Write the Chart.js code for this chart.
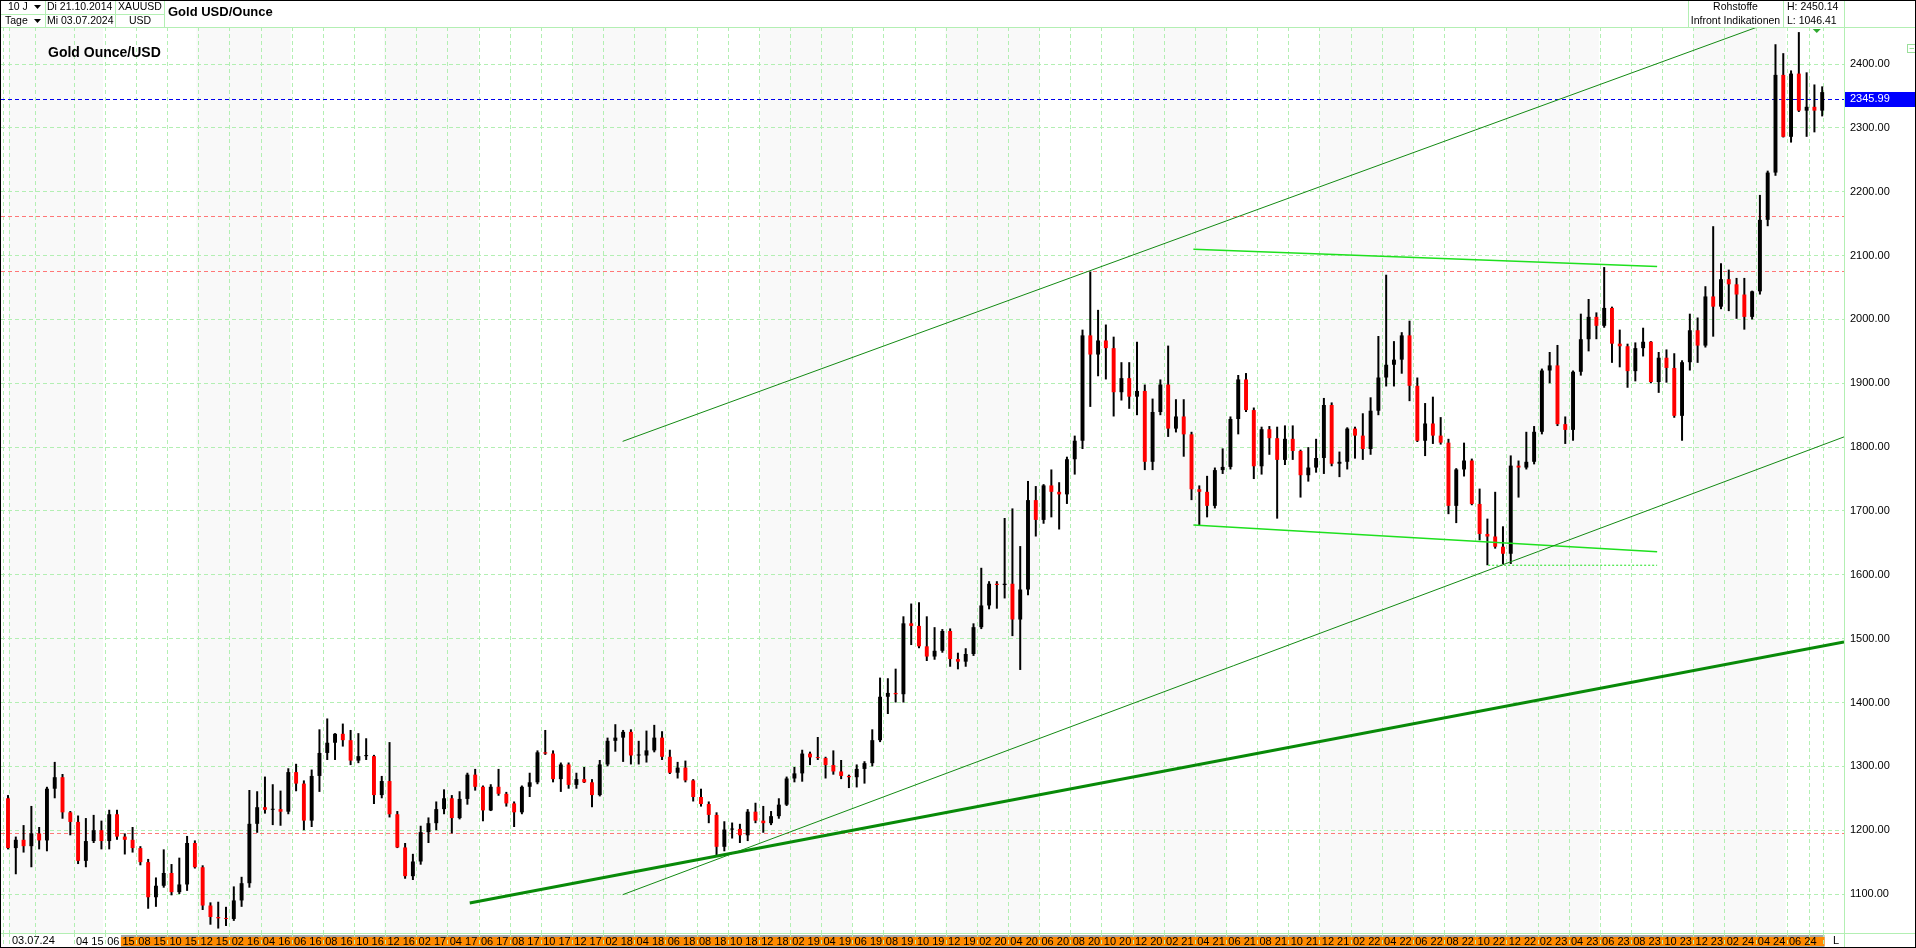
<!DOCTYPE html>
<html>
<head>
<meta charset="utf-8">
<title>Gold USD/Ounce</title>
<script src="https://cdn.jsdelivr.net/npm/chart.js@4.4.1/dist/chart.umd.min.js"></script>
<style>
  html, body { margin: 0; padding: 0; background: #fff; overflow: hidden; }
  canvas { display: block; }
</style>
</head>
<body>
<canvas id="goldChart" width="1916" height="948"></canvas>
<script>
// Half-month candles, first one = 21.10.2014 - 31.10.2014, last one = 01.07.2024 - 03.07.2024
// x unit = months since 01.01.2014
const FIRST_PERIOD = 9.75;
const PERIOD_STEP = 0.5;

const opens = [
  1250, 1172, 1185, 1175, 1195,
  1184, 1265, 1283, 1228, 1213, 1152, 1183, 1200, 1183, 1225, 1190, 1185, 1172, 1150, 1095, 1113, 1133, 1103, 1115, 1180, 1142, 1082, 1064, 1062,
  1061, 1090, 1117, 1210, 1236, 1232, 1233, 1229, 1291, 1273, 1215, 1285, 1321, 1337, 1351, 1341, 1309, 1316, 1316, 1255, 1277, 1225, 1173, 1128,
  1151, 1197, 1211, 1233, 1250, 1219, 1249, 1287, 1268, 1231, 1268, 1257, 1242, 1228, 1268, 1275, 1322, 1320, 1280, 1303, 1271, 1280, 1275, 1255,
  1303, 1340, 1345, 1354, 1317, 1317, 1325, 1345, 1315, 1290, 1298, 1278, 1252, 1241, 1224, 1174, 1201, 1202, 1192, 1229, 1215, 1211, 1222, 1240,
  1281, 1289, 1320, 1314, 1313, 1302, 1292, 1285, 1283, 1296, 1305, 1341, 1409, 1415, 1413, 1524, 1520, 1488, 1472, 1481, 1512, 1468, 1464, 1476,
  1518, 1552, 1586, 1584, 1586, 1530, 1577, 1717, 1686, 1740, 1730, 1726, 1781, 1810, 1975, 1945, 1967, 1955, 1886, 1908, 1879, 1888, 1777, 1855,
  1898, 1829, 1848, 1820, 1734, 1730, 1708, 1764, 1769, 1844, 1906, 1858, 1770, 1828, 1814, 1780, 1813, 1794, 1756, 1768, 1783, 1866, 1774, 1777,
  1829, 1818, 1797, 1857, 1909, 1929, 1937, 1975, 1896, 1810, 1837, 1818, 1807, 1708, 1765, 1779, 1711, 1664, 1660, 1644, 1633, 1771, 1768, 1777,
  1824, 1920, 1928, 1836, 1827, 1918, 1969, 2004, 1990, 2018, 1962, 1958, 1919, 1955, 1965, 1902, 1940, 1924, 1849, 1933, 1983, 1959, 2036, 2020,
  2063, 2055, 2039, 2004, 2044, 2156, 2230, 2383, 2286, 2385, 2327, 2333, 2327
];
const highs = [
  1255, 1190, 1208, 1238, 1205,
  1268, 1307, 1288, 1230, 1223, 1219, 1224, 1215, 1232, 1232, 1195, 1205, 1175, 1155, 1126, 1170, 1147, 1157, 1191, 1184, 1145, 1087, 1088, 1080,
  1112, 1127, 1263, 1261, 1284, 1272, 1262, 1297, 1304, 1278, 1295, 1358, 1375, 1352, 1367, 1357, 1352, 1344, 1318, 1285, 1338, 1230, 1180, 1163,
  1207, 1220, 1245, 1264, 1255, 1261, 1290, 1296, 1270, 1272, 1296, 1260, 1245, 1270, 1290, 1325, 1357, 1325, 1306, 1306, 1290, 1299, 1280, 1310,
  1345, 1366, 1357, 1358, 1340, 1356, 1365, 1355, 1326, 1307, 1309, 1280, 1265, 1245, 1228, 1214, 1212, 1210, 1233, 1243, 1238, 1230, 1250, 1284,
  1299, 1326, 1323, 1346, 1315, 1325, 1310, 1287, 1303, 1308, 1358, 1439, 1438, 1453, 1535, 1555, 1557, 1535, 1518, 1515, 1516, 1478, 1485, 1524,
  1611, 1590, 1590, 1689, 1704, 1645, 1747, 1739, 1742, 1765, 1745, 1785, 1818, 1984, 2075, 2015, 1992, 1973, 1933, 1933, 1965, 1898, 1876, 1906,
  1959, 1875, 1875, 1824, 1740, 1755, 1768, 1798, 1848, 1913, 1916, 1862, 1832, 1833, 1832, 1834, 1834, 1796, 1800, 1813, 1877, 1870, 1793, 1831,
  1832, 1853, 1878, 1974, 2070, 1966, 1980, 1998, 1909, 1869, 1879, 1847, 1813, 1767, 1807, 1782, 1735, 1688, 1730, 1676, 1787, 1779, 1824, 1833,
  1923, 1949, 1960, 1848, 1920, 2009, 2032, 2011, 2082, 2020, 1984, 1962, 1964, 1987, 1966, 1949, 1953, 1947, 1936, 2009, 2003, 2052, 2146, 2088,
  2078, 2065, 2065, 2045, 2195, 2233, 2431, 2417, 2390, 2450, 2387, 2368, 2365
];
const lows = [
  1170, 1131, 1165, 1142, 1170,
  1167, 1250, 1218, 1192, 1147, 1142, 1180, 1170, 1170, 1185, 1162, 1165, 1145, 1077, 1080, 1110, 1098, 1100, 1105, 1140, 1075, 1052, 1046, 1050,
  1058, 1080, 1110, 1196, 1226, 1208, 1207, 1225, 1261, 1200, 1205, 1260, 1310, 1310, 1331, 1302, 1305, 1310, 1241, 1250, 1220, 1172, 1124, 1122,
  1146, 1180, 1200, 1225, 1195, 1217, 1240, 1262, 1214, 1230, 1254, 1237, 1205, 1225, 1252, 1272, 1318, 1275, 1260, 1265, 1265, 1274, 1236, 1253,
  1300, 1323, 1307, 1303, 1303, 1306, 1322, 1310, 1288, 1281, 1275, 1245, 1237, 1211, 1160, 1167, 1187, 1180, 1183, 1211, 1196, 1208, 1218, 1238,
  1275, 1276, 1302, 1310, 1281, 1287, 1280, 1266, 1267, 1273, 1300, 1338, 1382, 1400, 1400, 1490, 1485, 1465, 1467, 1478, 1456, 1452, 1456, 1473,
  1515, 1546, 1547, 1563, 1504, 1451, 1568, 1660, 1680, 1690, 1671, 1711, 1757, 1797, 1863, 1911, 1906, 1848, 1873, 1860, 1850, 1764, 1764, 1850,
  1816, 1823, 1785, 1717, 1677, 1690, 1704, 1758, 1765, 1820, 1855, 1750, 1757, 1788, 1688, 1772, 1780, 1721, 1746, 1760, 1758, 1770, 1753, 1765,
  1782, 1780, 1788, 1850, 1895, 1895, 1915, 1872, 1808, 1786, 1805, 1804, 1695, 1681, 1754, 1709, 1654, 1615, 1641, 1617, 1617, 1721, 1765, 1773,
  1820, 1900, 1833, 1805, 1810, 1912, 1950, 1969, 1987, 1932, 1925, 1893, 1903, 1942, 1900, 1885, 1901, 1846, 1810, 1920, 1932, 1956, 1973, 2016,
  2013, 2001, 1984, 2000, 2039, 2146, 2225, 2285, 2277, 2325, 2286, 2293, 2318
];
const closes = [
  1172, 1185, 1175, 1195, 1184,
  1265, 1283, 1228, 1213, 1152, 1183, 1200, 1183, 1225, 1190, 1185, 1172, 1150, 1095, 1113, 1133, 1103, 1115, 1180, 1142, 1082, 1064, 1062, 1061,
  1090, 1117, 1210, 1236, 1232, 1233, 1229, 1291, 1273, 1215, 1285, 1321, 1337, 1351, 1341, 1309, 1316, 1316, 1255, 1277, 1225, 1173, 1128, 1151,
  1197, 1211, 1233, 1250, 1219, 1249, 1287, 1268, 1231, 1268, 1257, 1242, 1228, 1268, 1275, 1322, 1320, 1280, 1303, 1271, 1280, 1275, 1255, 1303,
  1340, 1345, 1354, 1317, 1317, 1325, 1345, 1315, 1290, 1298, 1278, 1252, 1241, 1224, 1174, 1201, 1202, 1192, 1229, 1215, 1211, 1222, 1240, 1281,
  1289, 1320, 1314, 1313, 1302, 1292, 1285, 1283, 1296, 1305, 1341, 1409, 1415, 1413, 1524, 1520, 1488, 1472, 1481, 1512, 1468, 1464, 1476, 1518,
  1552, 1586, 1584, 1586, 1530, 1577, 1717, 1686, 1740, 1730, 1726, 1781, 1810, 1975, 1945, 1967, 1955, 1886, 1908, 1879, 1888, 1777, 1855, 1898,
  1829, 1848, 1820, 1734, 1730, 1708, 1764, 1769, 1844, 1906, 1858, 1770, 1828, 1814, 1780, 1813, 1794, 1756, 1768, 1783, 1866, 1774, 1777, 1829,
  1818, 1797, 1857, 1909, 1929, 1937, 1975, 1896, 1810, 1837, 1818, 1807, 1708, 1765, 1779, 1711, 1664, 1660, 1644, 1633, 1771, 1768, 1777, 1824,
  1920, 1928, 1836, 1827, 1918, 1969, 2004, 1990, 2018, 1962, 1958, 1919, 1955, 1965, 1902, 1940, 1924, 1849, 1933, 1983, 1959, 2036, 2020, 2063,
  2055, 2039, 2004, 2044, 2156, 2230, 2383, 2286, 2385, 2327, 2333, 2327, 2356
];

// trend lines drawn on the chart (x = month, y = price)
const channelTop = [{ x: 49.22, y: 1809 }, { x: 124.0, y: 2475 }];
const channelBottom = [{ x: 49.22, y: 1099 }, { x: 127.65, y: 1816 }];
const supportLine = [{ x: 39.4, y: 1086 }, { x: 127.65, y: 1495 }];
const rangeTop = [{ x: 85.87, y: 2110 }, { x: 115.65, y: 2083 }];
const rangeBottom = [{ x: 85.87, y: 1678 }, { x: 115.65, y: 1636 }];
const rangeLow = [{ x: 104.8, y: 1615 }, { x: 115.65, y: 1615 }];

// horizontal marker lines
const redLevels = [2161.5, 2076.5, 1195];
const lastPrice = 2345.99;

// axes
const yTickValues = [1100, 1200, 1300, 1400, 1500, 1600, 1700, 1800, 1900, 2000, 2100, 2200, 2300, 2400];
const FIRST_LABEL_MONTH = 15; // 04 15, then every 2 months
const xTickLabels = [
  '04 15', '06 15', '08 15', '10 15', '12 15',
  '02 16', '04 16', '06 16', '08 16', '10 16', '12 16',
  '02 17', '04 17', '06 17', '08 17', '10 17', '12 17',
  '02 18', '04 18', '06 18', '08 18', '10 18', '12 18',
  '02 19', '04 19', '06 19', '08 19', '10 19', '12 19',
  '02 20', '04 20', '06 20', '08 20', '10 20', '12 20',
  '02 21', '04 21', '06 21', '08 21', '10 21', '12 21',
  '02 22', '04 22', '06 22', '08 22', '10 22', '12 22',
  '02 23', '04 23', '06 23', '08 23', '10 23', '12 23',
  '02 24', '04 24', '06 24'
];
const extraGridMonths = [9.65, 10, 13, 125.9]; // unlabeled lines (start, 11/14, 02/15, today marker)
const shadeBands = [
  [9.8, 15.85], [21.85, 27.9], [33.9, 39.95], [46.0, 52.05], [58.05, 63.95],
  [69.95, 76.0], [82.0, 88.05], [93.95, 100.0], [106.0, 111.9], [117.95, 123.9]
];

const GRID = '#b3efb3';
const FONT = "'Liberation Sans', Arial, sans-serif";
Chart.defaults.font.family = FONT;
Chart.defaults.font.size = 11;
Chart.defaults.color = '#000';

// ✅ Build chart tables
const labelByMonth = {};
xTickLabels.forEach((l, i) => { labelByMonth[FIRST_LABEL_MONTH + i * 2] = l; });
const xGridMonths = extraGridMonths.concat(Object.keys(labelByMonth).map(Number)).sort((a, b) => a - b);

const wicks = [], bodies = [], bodyColors = [];
opens.forEach((o, i) => {
  const x = FIRST_PERIOD + i * PERIOD_STEP;
  wicks.push({ x, y: [lows[i], highs[i]] });
  bodies.push({ x, y: [o, closes[i]] });
  bodyColors.push(closes[i] >= o ? '#000000' : '#ff0000');
});

function text(ctx, str, x, y, align, font, color) {
  ctx.font = font || `10.5px ${FONT}`;
  ctx.fillStyle = color || '#000';
  ctx.textAlign = align || 'left';
  ctx.textBaseline = 'middle';
  ctx.fillText(str, x, y);
}

function hLine(ctx, x1, x2, y, color) {
  ctx.strokeStyle = color;
  ctx.beginPath(); ctx.moveTo(x1, y); ctx.lineTo(x2, y); ctx.stroke();
}

function vLine(ctx, x, y1, y2, color) {
  ctx.strokeStyle = color;
  ctx.beginPath(); ctx.moveTo(x, y1); ctx.lineTo(x, y2); ctx.stroke();
}

const frame = {
  id: 'frame',
  beforeDraw(chart) {
    const { ctx, chartArea: a, scales: { x } } = chart;
    ctx.save();
    ctx.fillStyle = '#fff';
    ctx.fillRect(0, 0, chart.width, chart.height);

    // half-year shading
    ctx.fillStyle = '#f9f9f9';
    shadeBands.forEach(([from, to]) => {
      const x1 = Math.max(a.left, x.getPixelForValue(from));
      const x2 = Math.min(a.right, x.getPixelForValue(to));
      ctx.fillRect(x1, a.top, x2 - x1, a.bottom - a.top);
    });

    // orange date strip
    const ox1 = x.getPixelForValue(17), ox2 = x.getPixelForValue(126.4);
    ctx.fillStyle = '#a8a8a8';
    ctx.fillRect(ox1, a.bottom + 2, ox2 - ox1, 12);
    ctx.fillStyle = '#ff8a00';
    ctx.fillRect(ox1, a.bottom + 4, ox2 - ox1, 9);
    ctx.restore();
  },
  beforeDatasetsDraw(chart) {
    const { ctx, chartArea: a, scales: { y } } = chart;
    ctx.save();
    ctx.lineWidth = 1;
    ctx.setLineDash([4, 3]);
    redLevels.forEach(v => hLine(ctx, a.left, a.right, Math.round(y.getPixelForValue(v)) + 0.5, '#ff7777'));
    hLine(ctx, a.left, a.right, Math.round(y.getPixelForValue(lastPrice)) + 0.5, '#0000ee');
    ctx.restore();
  },
  afterDraw(chart) {
    const { ctx, chartArea: a, scales: { x, y } } = chart;
    const W = chart.width, H = chart.height;
    ctx.save();
    ctx.lineWidth = 1;
    ctx.setLineDash([]);

    // header
    ctx.fillStyle = '#fff';
    ctx.fillRect(0, 0, W, a.top);
    hLine(ctx, 0, W, a.top + 0.5, GRID);
    hLine(ctx, 0, 164.5, 14.5, GRID);
    [45.5, 115.5, 164.5, 1688.5, 1783.5].forEach(px => vLine(ctx, px, 0, a.top, GRID));
    text(ctx, '10 J', 8, 7);
    text(ctx, 'Tage', 5, 21);
    ctx.fillStyle = '#000';
    [7, 21].forEach(cy => {
      ctx.beginPath(); ctx.moveTo(34, cy - 2); ctx.lineTo(41, cy - 2); ctx.lineTo(37.5, cy + 2); ctx.closePath(); ctx.fill();
    });
    text(ctx, 'Di 21.10.2014', 47, 7);
    text(ctx, 'Mi 03.07.2024', 47, 21);
    text(ctx, 'XAUUSD', 140, 7, 'center');
    text(ctx, 'USD', 140, 21, 'center');
    text(ctx, 'Gold USD/Ounce', 168, 12, 'left', `bold 13px ${FONT}`);
    text(ctx, 'Rohstoffe', 1735.5, 7, 'center');
    text(ctx, 'Infront Indikationen', 1735.5, 21, 'center');
    text(ctx, 'H: 2450.14', 1787, 7);
    text(ctx, 'L: 1046.41', 1787, 21);

    // chart title
    text(ctx, 'Gold Ounce/USD', 48, 53, 'left', `bold 14px ${FONT}`);

    // right axis / date strip borders
    vLine(ctx, a.right + 0.5, 0, H, GRID);
    hLine(ctx, 0, W, a.bottom + 0.5, GRID);

    // last price box
    const py = y.getPixelForValue(lastPrice);
    ctx.fillStyle = '#0000ff';
    ctx.fillRect(a.right + 1, Math.round(py) - 7, W - a.right - 2, 15);
    text(ctx, lastPrice.toFixed(2), a.right + 6, py + 0.5, 'left', `11px ${FONT}`, '#fff');

    // date strip texts
    text(ctx, '03.07.24', 12, a.bottom + 8, 'left', `11px ${FONT}`);
    text(ctx, 'L', 1833, a.bottom + 8, 'left', `11px ${FONT}`);

    // today marker triangle
    const tx = x.getPixelForValue(125.9);
    ctx.fillStyle = '#2fa82f';
    ctx.beginPath(); ctx.moveTo(tx - 4, a.top + 2); ctx.lineTo(tx + 4, a.top + 2); ctx.lineTo(tx, a.top + 6); ctx.closePath(); ctx.fill();

    // collapse icon
    ctx.strokeStyle = '#9adf9a';
    ctx.strokeRect(1907.5, 44.5, 8, 8);
    hLine(ctx, 1909.5, 1914, 48.5, '#9adf9a');

    // outer frame
    ctx.strokeStyle = '#000';
    ctx.strokeRect(0.5, 0.5, W - 1, H - 1);
    ctx.restore();
  }
};

new Chart(document.getElementById('goldChart').getContext('2d'), {
  type: 'bar',
  data: {
    datasets: [
      { type: 'line', data: channelTop, borderColor: '#138a13', borderWidth: 1, pointRadius: 0, order: 0 },
      { type: 'line', data: channelBottom, borderColor: '#138a13', borderWidth: 1, pointRadius: 0, order: 0 },
      { type: 'line', data: supportLine, borderColor: '#088a08', borderWidth: 3, pointRadius: 0, order: 0 },
      { type: 'line', data: rangeTop, borderColor: '#1ee01e', borderWidth: 1.5, pointRadius: 0, order: 0 },
      { type: 'line', data: rangeBottom, borderColor: '#1ee01e', borderWidth: 1.5, pointRadius: 0, order: 0 },
      { type: 'line', data: rangeLow, borderColor: '#1ee01e', borderWidth: 1, borderDash: [2, 2], pointRadius: 0, order: 0 },
      { data: bodies, backgroundColor: bodyColors, grouped: false, maxBarThickness: 6, minBarLength: 1, order: 1 },
      { data: wicks, backgroundColor: '#000000', grouped: false, maxBarThickness: 2, order: 2 }
    ]
  },
  options: {
    responsive: false,
    animation: false,
    devicePixelRatio: 1,
    events: [],
    layout: { autoPadding: false, padding: { top: 27, left: 1, right: 0, bottom: 0 } },
    plugins: { legend: { display: false }, tooltip: { enabled: false } },
    scales: {
      x: {
        type: 'linear',
        min: 9.3,
        max: 127.65,
        offset: false,
        afterBuildTicks: s => { s.ticks = xGridMonths.map(v => ({ value: v })); },
        afterFit: s => { s.height = 15; },
        grid: { color: GRID, drawTicks: true, tickLength: 15, tickColor: GRID, tickBorderDash: [4, 3] },
        border: { display: false, dash: [4, 3] },
        ticks: {
          autoSkip: false, maxRotation: 0, minRotation: 0, padding: -13, color: '#000',
          callback: v => labelByMonth[v] || ''
        }
      },
      y: {
        type: 'linear',
        position: 'right',
        min: 1039,
        max: 2458,
        afterBuildTicks: s => { s.ticks = yTickValues.map(v => ({ value: v })); },
        afterFit: s => { s.width = 72; },
        grid: { color: GRID, drawTicks: false },
        border: { display: false, dash: [4, 3] },
        ticks: { padding: 6, color: '#000', callback: v => Number(v).toFixed(2) }
      }
    }
  },
  plugins: [frame]
});
</script>
</body>
</html>
